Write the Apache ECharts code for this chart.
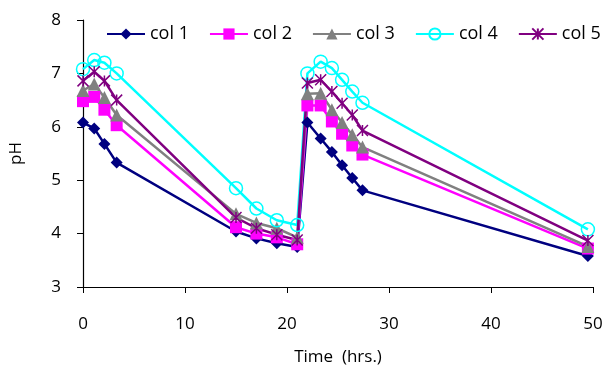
<!DOCTYPE html>
<html>
<head>
<meta charset="utf-8">
<script src="https://cdn.jsdelivr.net/npm/echarts@6/dist/echarts.min.js"></script>
<style>
html,body{margin:0;padding:0;background:#fff;}
#chart{width:607px;height:379px;}
</style>
</head>
<body>
<div id="chart"></div>
<script>
const time = [0, 1.1, 2.1, 3.3, 15, 17, 19, 21, 22, 23.3, 24.4, 25.4, 26.4, 27.4, 49.5];
const col1 = [6.08, 5.97, 5.68, 5.33, 4.04, 3.91, 3.82, 3.75, 6.08, 5.78, 5.53, 5.28, 5.04, 4.81, 3.58];
const col2 = [6.48, 6.56, 6.32, 6.03, 4.12, 4.0, 3.93, 3.8, 6.4, 6.4, 6.1, 5.87, 5.65, 5.48, 3.72];
const col3 = [6.68, 6.8, 6.55, 6.22, 4.37, 4.2, 4.1, 3.93, 6.62, 6.63, 6.32, 6.08, 5.85, 5.62, 3.76];
const col4 = [7.08, 7.25, 7.2, 7.0, 4.85, 4.47, 4.25, 4.16, 7.0, 7.22, 7.1, 6.88, 6.66, 6.45, 4.08];
const col5 = [6.86, 7.03, 6.86, 6.5, 4.3, 4.1, 3.98, 3.88, 6.82, 6.88, 6.66, 6.44, 6.22, 5.93, 3.87];
const seriesNames = ['col 1', 'col 2', 'col 3', 'col 4', 'col 5'];
const yTicks = [3, 4, 5, 6, 7, 8];
const xTicks = [0, 10, 20, 30, 40, 50];

const pair = arr => time.map((t, i) => [t, arr[i]]);
const FONT = 'Open Sans';
const asterisk = 'path://M0,0 L10,10 M10,0 L0,10 M5,0 L5,10';

function mk(name, data, color, symbol, size, itemStyle) {
  return {
    name, type: 'line', data: pair(data),
    symbol, symbolSize: size,
    lineStyle: { color, width: 2.5 },
    itemStyle: Object.assign({ color, opacity: 1 }, itemStyle || {}),
    emphasis: { disabled: true },
    animation: false
  };
}

const chart = echarts.init(document.getElementById('chart'), null, { renderer: 'canvas' });
chart.setOption({
  backgroundColor: '#fff',
  animation: false,
  textStyle: { fontFamily: FONT },
  legend: {
    top: 20, left: 101,
    itemWidth: 38, itemHeight: 14, itemGap: 20,
    textStyle: { fontFamily: FONT, fontSize: 18, color: '#000' },
    data: seriesNames
  },
  grid: { left: 79, right: 14, top: 20, bottom: 92, containLabel: false },
  xAxis: {
    type: 'value', min: xTicks[0], max: xTicks[xTicks.length - 1], interval: 10,
    name: 'Time  (hrs.)', nameLocation: 'middle', nameGap: 62,
    nameTextStyle: { fontFamily: FONT, fontSize: 17, color: '#000' },
    axisLine: { show: true, onZero: false, lineStyle: { color: '#000', width: 1.2 } },
    axisTick: { show: true, inside: false, length: 6, lineStyle: { color: '#000' } },
    axisLabel: { fontFamily: FONT, fontSize: 17, color: '#000', margin: 29 },
    splitLine: { show: false }
  },
  yAxis: {
    type: 'value', min: yTicks[0], max: yTicks[yTicks.length - 1], interval: 1,
    name: 'pH', nameLocation: 'middle', nameGap: 58, nameRotate: 90,
    nameTextStyle: { fontFamily: FONT, fontSize: 17, color: '#000' },
    axisLine: { show: true, lineStyle: { color: '#000', width: 1.2 } },
    axisTick: { show: true, inside: false, length: 6, lineStyle: { color: '#000' } },
    axisLabel: { fontFamily: FONT, fontSize: 17, color: '#000', margin: 22 },
    splitLine: { show: false }
  },
  series: [
    mk('col 1', col1, '#000080', 'diamond', 12),
    mk('col 2', col2, '#FF00FF', 'rect', 12),
    mk('col 3', col3, '#808080', 'triangle', 13),
    mk('col 4', col4, '#00FFFF', 'circle', 13, { color: 'rgba(255,255,255,0)', borderColor: '#00FFFF', borderWidth: 1.5 }),
    mk('col 5', col5, '#800080', asterisk, 11, { color: 'rgba(0,0,0,0)', borderColor: '#800080', borderWidth: 1.5 })
  ]
});
</script>
</body>
</html>
